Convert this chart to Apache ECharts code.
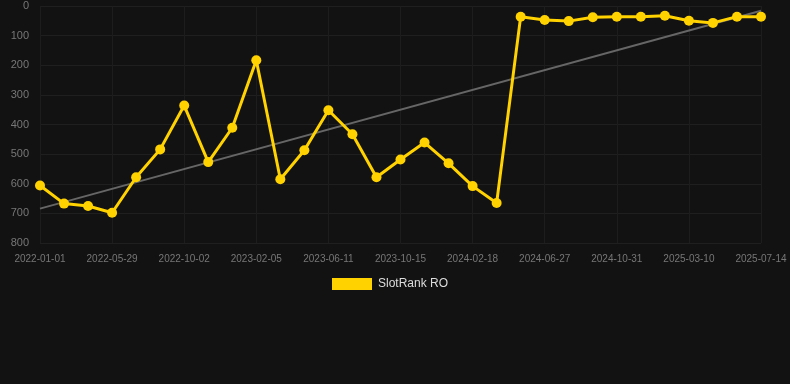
<!DOCTYPE html>
<html><head><meta charset="utf-8">
<script src="https://cdn.jsdelivr.net/npm/echarts@6/dist/echarts.min.js"></script>
<style>html,body{margin:0;padding:0;background:#121212;}#c{width:790px;height:384px;}</style>
</head><body><div id="c"></div>
<script>
const categories = ['2022-01-01','2022-02-20','2022-04-10','2022-05-29','2022-07-10','2022-08-21','2022-10-02','2022-11-13','2022-12-25','2023-02-05','2023-03-19','2023-04-30','2023-06-11','2023-07-23','2023-09-03','2023-10-15','2023-11-26','2024-01-07','2024-02-18','2024-03-31','2024-05-14','2024-06-27','2024-08-08','2024-09-19','2024-10-31','2024-12-12','2025-01-26','2025-03-10','2025-04-21','2025-06-02','2025-07-14'];
const rankValues = [606,667,675,698,578,484,336,527,411,183,585,487,352,433,578,518,461,531,608,665,36,47,51,38,36,36,33,50,57,36,36];
const trendEnds = [684,16];
const yTicks = [0,100,200,300,400,500,600,700,800];

const trendData = categories.map((c,i)=> i===0 ? trendEnds[0] : (i===categories.length-1 ? trendEnds[1] : null));

const chart = echarts.init(document.getElementById('c'));
chart.setOption({
  backgroundColor:'#121212',
  animation:false,
  grid:{left:40,right:29,top:6,bottom:141,containLabel:false},
  legend:{top:273,left:327,icon:'rect',itemWidth:40,itemHeight:12,itemGap:10,
    textStyle:{color:'#ddd',fontSize:12,padding:[0,0,0,1]},data:['SlotRank RO']},
  xAxis:{type:'category',data:categories,boundaryGap:false,
    axisLine:{show:false},axisTick:{show:false},
    axisLabel:{color:'#777',fontSize:10,interval:2,margin:11},
    splitLine:{show:true,interval:2,lineStyle:{color:'#1d1d1d'}}},
  yAxis:{type:'value',inverse:true,min:yTicks[0],max:yTicks[yTicks.length-1],interval:100,
    axisLine:{show:false},axisTick:{show:false},
    axisLabel:{color:'#777',fontSize:11,margin:11},
    splitLine:{lineStyle:{color:'#1f1f1f'}}},
  series:[
    {name:'Trend',type:'line',data:trendData,connectNulls:true,symbol:'none',
      lineStyle:{color:'#666',width:2},z:1},
    {name:'SlotRank RO',type:'line',data:rankValues,symbol:'circle',symbolSize:10,
      itemStyle:{color:'#FFD200'},lineStyle:{color:'#FFD200',width:3},z:2}
  ]
});
</script></body></html>
